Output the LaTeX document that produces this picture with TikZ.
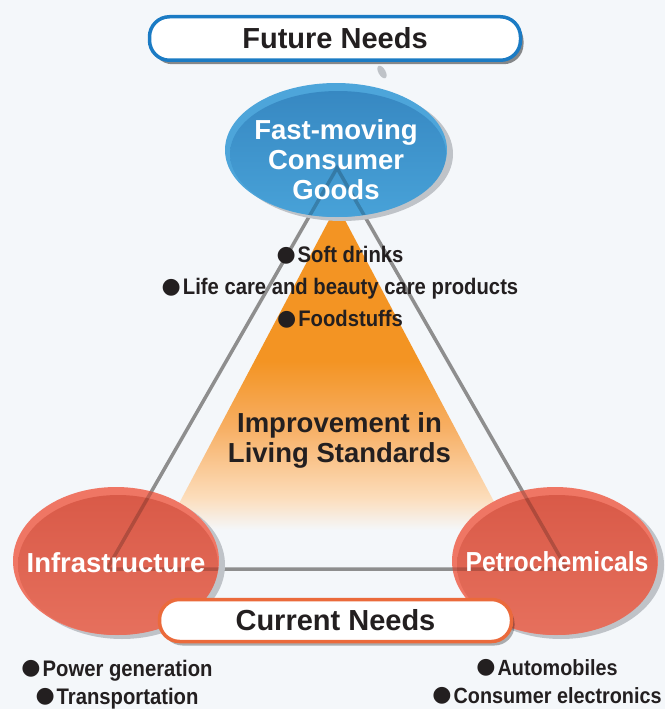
\documentclass[tikz,border=0pt]{standalone}
\usepackage{fontspec}
\setmainfont{Liberation Sans}
\newfontfamily\narrowsans[FakeStretch=0.9]{Liberation Sans}
\newfontfamily\dotsans{DejaVu Sans}
\usetikzlibrary{positioning,shapes.geometric,shadows}

\definecolor{paper}{HTML}{F4F7FA}
\definecolor{ink}{HTML}{231F20}
\definecolor{futureblue}{HTML}{1B7BC4}
\definecolor{currentorange}{HTML}{EB6A3B}
\definecolor{goodsrim}{HTML}{4DA5DA}
\definecolor{goodstop}{HTML}{3788C2}
\definecolor{goodsbottom}{HTML}{48A2D8}
\definecolor{needsrim}{HTML}{EF7664}
\definecolor{needstop}{HTML}{D95A48}
\definecolor{needsbottom}{HTML}{E6705D}
\definecolor{livingorange}{HTML}{F39423}
\definecolor{livingmid}{HTML}{F7AE62}
\definecolor{livingpeach}{HTML}{FCDDBB}
\definecolor{linkgray}{HTML}{8E8E8E}
\definecolor{blobshadow}{HTML}{BFC3C8}

\pgfdeclareverticalshading{livingfade}{100bp}{color(0bp)=(paper); color(25bp)=(paper); color(30bp)=(livingpeach); color(41bp)=(livingmid); color(51bp)=(livingorange); color(100bp)=(livingorange)}

\newcommand{\itemdot}{\raisebox{1.2pt}{\dotsans\fontsize{22}{22}\selectfont ●}\hspace{2pt}}

% shadow, rim and body of one blob
\newcommand{\drawblob}[6]{%
  \fill[blobshadow] ([shift={(6,4)}]#1) ellipse [x radius=#2, y radius=#3];
  \fill[#4] (#1) ellipse [x radius=#2, y radius=#3];
  \shade[top color=#5, bottom color=#6] ([shift={(2,4)}]#1) ellipse [x radius=#2-3, y radius=#3-4];
}

\tikzset{
  needpill/.style={rounded corners=20pt, fill=white, line width=3.5pt, inner sep=0pt, text=ink, font=\fontsize{29}{29}\selectfont\bfseries},
  blobtext/.style={text=white, align=center, inner sep=0pt, font=\fontsize{27.5}{30}\selectfont\bfseries},
  itemlist/.style={text=ink, align=center, inner sep=0pt, font=\narrowsans\fontsize{22.5}{32}\selectfont\bfseries},
  linkline/.style={draw=linkgray, line width=3.5pt},
}

\begin{document}
\begin{tikzpicture}[x=1pt, y=-1pt]
      \useasboundingbox (0,0) rectangle (665,709);
      \fill[paper] (0,0) rectangle (665,709);

      \coordinate (apex) at (337,168);
      \coordinate (leftcorner) at (107,569);
      \coordinate (rightcorner) at (567,569);
      \coordinate (goodsc) at (336,150);
      \coordinate (infrac) at (116,561);
      \coordinate (petroc) at (555,561);

      % Orange triangle fading out
      \shade[shading=livingfade] (337,205) -- (165,530) -- (509,530) -- cycle;

      % Triangle linking the three blobs
      \draw[linkline] (apex) -- (leftcorner) -- (rightcorner) -- cycle;

      % Blobs
      \drawblob{goodsc}{111}{67}{goodsrim}{goodstop}{goodsbottom}
      \drawblob{infrac}{103}{74}{needsrim}{needstop}{needsbottom}
      \drawblob{petroc}{103}{74}{needsrim}{needstop}{needsbottom}
      \fill[blobshadow, rotate around={30:(382,72)}] (382,72) ellipse [x radius=3.5, y radius=7];

      % Links seen through the blobs
      \begin{scope}
        \clip (goodsc) ellipse [x radius=111, y radius=67] (infrac) ellipse [x radius=103, y radius=74] (petroc) ellipse [x radius=103, y radius=74];
        \draw[line width=3.5pt, black, opacity=0.2] (apex) -- (leftcorner) -- (rightcorner) -- cycle;
      \end{scope}

      % Need labels
      \node[needpill, draw=futureblue, minimum width=371pt, minimum height=43.5pt,
            drop shadow={shadow xshift=3pt, shadow yshift=-4pt, fill=black, opacity=0.45}] (future) at (335,38.5) {Future Needs};
      \node[needpill, draw=currentorange, minimum width=352pt, minimum height=42pt,
            drop shadow={shadow xshift=3pt, shadow yshift=-4pt, fill=black, opacity=0.3}] (current) at (335.5,620.5) {Current Needs};

      % Blob texts
      \node[blobtext] (goods) at (336,160) {Fast-moving\\Consumer\\Goods};
      \node[blobtext, anchor=base] (infra) at (116,572) {Infrastructure};
      \node[blobtext, anchor=base, font=\narrowsans\fontsize{27.5}{30}\selectfont\bfseries] (petro) at (557,571) {Petrochemicals};
      \node[blobtext, text=ink] (living) at (339.5,440.5) {Improvement in\\Living Standards};

      % Item lists
      \node[itemlist] (goodsitems) at (340,287) {\itemdot Soft drinks\\\itemdot Life care and beauty care products\\\itemdot Foodstuffs};
      \node[itemlist, font=\narrowsans\fontsize{22.5}{28}\selectfont\bfseries] (infraitems) at (117,684.2) {\itemdot Power generation\\\itemdot Transportation};
      \node[itemlist, font=\narrowsans\fontsize{22}{28}\selectfont\bfseries] (petroitems) at (547,681.8) {\itemdot Automobiles\\\itemdot Consumer electronics};

      \end{tikzpicture}
\end{document}
